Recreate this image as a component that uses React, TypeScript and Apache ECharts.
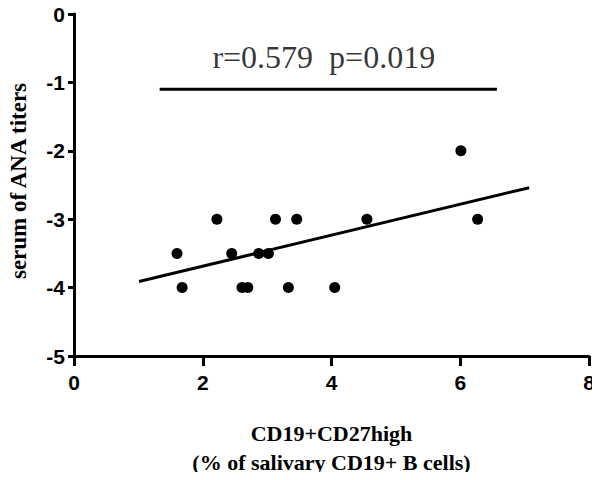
import React, { useEffect, useRef } from "react";
import * as echarts from "echarts";

const xValues = [1.6, 1.68, 2.22, 2.45, 2.61, 2.7, 2.87, 3.02, 3.13, 3.33, 3.46, 4.05, 4.55, 6.01, 6.27];
const yValues = [-3.5, -4, -3, -3.5, -4, -4, -3.5, -3.5, -3, -4, -3, -4, -3, -2, -3];
const fitLine = [
  [1.01, -3.91],
  [7.07, -2.54],
];
const statBar = [
  [1.33, -1.1],
  [6.57, -1.1],
];
const statText = "r=0.579  p=0.019";
const statTextPos = [3.88, -0.63];
const xTitle = "CD19+CD27high\n(% of salivary CD19+ B cells)";
const yTitle = "serum of ANA titers";

export default function App() {
  const ref = useRef<HTMLDivElement>(null);
  useEffect(() => {
    if (!ref.current) return;
    const chart = echarts.init(ref.current, null, { renderer: "svg" });
    const points = xValues.map((x, i) => [x, yValues[i]]);
    chart.setOption({
      animation: false,
      backgroundColor: "#ffffff",
      grid: { left: 74, right: 11, top: 14, bottom: 124, containLabel: false, outerBoundsMode: "none" },
      xAxis: {
        type: "value",
        min: 0,
        max: 8,
        interval: 2,
        name: xTitle,
        nameLocation: "middle",
        nameGap: 63,
        nameMoveOverlap: false,
        nameTextStyle: {
          fontFamily: "Liberation Serif",
          fontWeight: "bold",
          fontSize: 22,
          color: "#000",
          lineHeight: 29,
        },
        axisLine: { show: true, onZero: false, lineStyle: { color: "#000", width: 3 } },
        axisTick: { show: true, inside: false, length: 10, lineStyle: { color: "#000", width: 3 } },
        axisLabel: {
          margin: 16,
          fontFamily: "Liberation Sans",
          fontWeight: "bold",
          fontSize: 21,
          color: "#000",
        },
        splitLine: { show: false },
      },
      yAxis: {
        type: "value",
        min: -5,
        max: 0,
        interval: 1,
        name: yTitle,
        nameLocation: "middle",
        nameGap: 44,
        nameMoveOverlap: false,
        nameTextStyle: {
          fontFamily: "Liberation Serif",
          fontWeight: "bold",
          fontSize: 23,
          color: "#000",
          padding: [0, 0, 0, 8],
        },
        axisLine: { show: true, onZero: false, lineStyle: { color: "#000", width: 3 } },
        axisTick: { show: true, inside: false, length: 6, lineStyle: { color: "#000", width: 3 } },
        axisLabel: {
          margin: 9,
          fontFamily: "Liberation Sans",
          fontWeight: "bold",
          fontSize: 21,
          color: "#000",
        },
        splitLine: { show: false },
      },
      series: [
        {
          type: "scatter",
          data: points,
          symbol: "circle",
          symbolSize: 11,
          itemStyle: { color: "#000", opacity: 1 },
          z: 3,
        },
        {
          type: "line",
          data: fitLine,
          symbol: "none",
          lineStyle: { color: "#000", width: 3 },
          z: 2,
        },
        {
          type: "line",
          data: statBar,
          symbol: "none",
          lineStyle: { color: "#000", width: 3 },
          z: 2,
        },
        {
          type: "scatter",
          data: [statTextPos],
          symbolSize: 0,
          label: {
            show: true,
            position: "inside",
            formatter: statText,
            fontFamily: "Liberation Serif",
            fontSize: 32,
            color: "#000",
          },
          z: 4,
        },
      ],
    });
    return () => chart.dispose();
  }, []);
  return <div ref={ref} style={{ width: 600, height: 480, margin: -8 }} />;
}
